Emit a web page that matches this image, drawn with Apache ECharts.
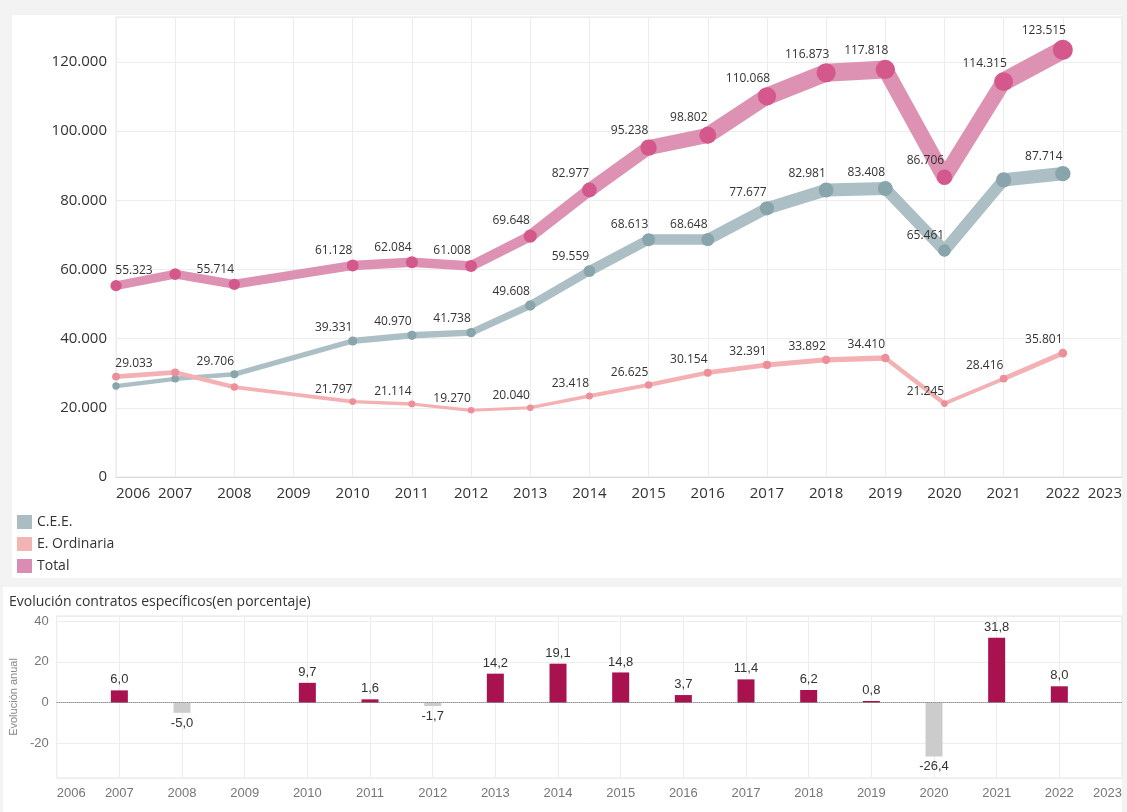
<!DOCTYPE html>
<html>
<head>
<meta charset="utf-8">
<title>Contratos específicos</title>
<script src="https://cdn.jsdelivr.net/npm/echarts@6/dist/echarts.min.js"></script>
<style>
  html, body { margin: 0; padding: 0; background: #f3f3f3; }
  #main { width: 1127px; height: 812px; }
</style>
</head>
<body>
<div id="main"></div>
<script>
// años con dato (2009 no viene en la serie)
var years = [2006, 2007, 2008, 2010, 2011, 2012, 2013, 2014, 2015, 2016, 2017, 2018, 2019, 2020, 2021, 2022];
var cee = [26290, 28400, 29706, 39331, 40970, 41738, 49608, 59559, 68613, 68648, 77677, 82981, 83408, 65461, 85899, 87714];
var ordinaria = [29033, 30250, 26008, 21797, 21114, 19270, 20040, 23418, 26625, 30154, 32391, 33892, 34410, 21245, 28416, 35801];
var total = [55323, 58650, 55714, 61128, 62084, 61008, 69648, 82977, 95238, 98802, 110068, 116873, 117818, 86706, 114315, 123515];

// puntos sin etiqueta en el original
var ceeSinEtiqueta = [2006, 2007, 2021];
var ordinariaSinEtiqueta = [2007, 2008];
var totalSinEtiqueta = [2007];

// evolución anual del total (%)
var evoYears = [2007, 2008, 2010, 2011, 2012, 2013, 2014, 2015, 2016, 2017, 2018, 2019, 2020, 2021, 2022];
var evolucion = [6.0, -5.0, 9.7, 1.6, -1.7, 14.2, 19.1, 14.8, 3.7, 11.4, 6.2, 0.8, -26.4, 31.8, 8.0];

var fuente = '"Open Sans", "Noto Sans", sans-serif';
var fuenteAbajo = '"Liberation Sans", Arial, sans-serif';

function miles(v) {
  return String(Math.round(v)).replace(/\B(?=(\d{3})+(?!\d))/g, '.');
}

// tramos de línea con grosor según el valor (como el "size" de Tableau)
function tramos(vals) {
  var out = [];
  for (var i = 0; i < years.length - 1; i++) {
    out.push({
      coords: [[years[i], vals[i]], [years[i + 1], vals[i + 1]]],
      lineStyle: { width: (vals[i] + vals[i + 1]) / 2 * 0.000155 }
    });
  }
  return out;
}

function puntos(vals, sinEtiqueta) {
  return vals.map(function (v, i) {
    return {
      value: [years[i], v],
      label: { show: sinEtiqueta.indexOf(years[i]) < 0, offset: i === 0 ? [18, 0] : [-19, 0] }
    };
  });
}

function serieLinea(nombre, vals, colorLinea, colorPunto, sinEtiqueta, z) {
  return [{
    name: nombre,
    type: 'lines',
    coordinateSystem: 'cartesian2d',
    xAxisIndex: 0,
    yAxisIndex: 0,
    silent: true,
    z: z,
    lineStyle: { color: colorLinea, opacity: 1, cap: 'round', curveness: 0 },
    data: tramos(vals)
  }, {
    name: nombre,
    type: 'scatter',
    xAxisIndex: 0,
    yAxisIndex: 0,
    z: z + 1,
    symbolSize: function (val) { return 4 + val[1] * 0.00013; },
    itemStyle: { color: colorPunto, opacity: 1 },
    label: {
      position: 'top',
      distance: 3,
      fontSize: 12,
      color: '#333',
      fontFamily: fuente,
      formatter: function (p) { return miles(p.value[1]); }
    },
    data: puntos(vals, sinEtiqueta)
  }];
}

var myChart = echarts.init(document.getElementById('main'));

var series = []
  .concat(serieLinea('C.E.E.', cee, '#abbfc4', '#88a5ac', ceeSinEtiqueta, 2))
  .concat(serieLinea('E. Ordinaria', ordinaria, '#f3b1b3', '#ec8f98', ordinariaSinEtiqueta, 4))
  .concat(serieLinea('Total', total, '#dd92b4', '#d4588c', totalSinEtiqueta, 6));

series.push({
  name: 'Evolución',
  type: 'bar',
  xAxisIndex: 1,
  yAxisIndex: 1,
  barWidth: 17,
  z: 3,
  label: {
    show: true,
    fontSize: 13,
    color: '#333',
    fontFamily: fuenteAbajo,
    distance: 4,
    formatter: function (p) { return p.value[1].toFixed(1).replace('.', ','); }
  },
  data: evoYears.map(function (y, i) {
    var v = evolucion[i];
    return {
      value: [y, v],
      itemStyle: { color: v < 0 ? '#cccccc' : '#a8124f' },
      label: { position: v < 0 ? 'bottom' : 'top' }
    };
  }),
  markLine: {
    silent: true,
    symbol: 'none',
    label: { show: false },
    lineStyle: { type: 'dotted', color: '#777', width: 1 },
    data: [{ yAxis: 0 }]
  }
});

myChart.setOption({
  animation: false,
  backgroundColor: '#f3f3f3',
  textStyle: { fontFamily: fuente },
  graphic: [
    { type: 'rect', z: -10, silent: true, shape: { x: 12, y: 15, width: 1110, height: 563 }, style: { fill: '#fff' } },
    { type: 'rect', z: -10, silent: true, shape: { x: 3, y: 587, width: 1119, height: 225 }, style: { fill: '#fff' } }
  ],
  title: {
    text: 'Evolución contratos específicos(en porcentaje)',
    left: 4,
    top: 590,
    textStyle: { fontSize: 14, fontWeight: 500, color: '#333', fontFamily: fuente }
  },
  legend: {
    orient: 'vertical',
    left: 12,
    top: 510,
    icon: 'rect',
    itemWidth: 15,
    itemHeight: 14,
    itemGap: 8,
    textStyle: { fontSize: 14, color: '#333' },
    data: [
      { name: 'C.E.E.', itemStyle: { color: '#a9bdc3' } },
      { name: 'E. Ordinaria', itemStyle: { color: '#f3b4b4' } },
      { name: 'Total', itemStyle: { color: '#d98db5' } }
    ]
  },
  grid: [
    { left: 116, right: 5, top: 17, bottom: 335, show: true, borderColor: '#e6e6e6', borderWidth: 1 },
    { left: 54, right: 5, top: 616, bottom: 34, show: true, borderColor: '#e6e6e6', borderWidth: 1 }
  ],
  xAxis: [{
    type: 'value',
    gridIndex: 0,
    min: 2006,
    max: 2023,
    interval: 1,
    axisTick: { show: false },
    axisLine: { lineStyle: { color: '#d9d9d9' } },
    splitLine: { lineStyle: { color: '#ededed' } },
    axisLabel: {
      fontSize: 15,
      color: '#333',
      margin: 9,
      alignMinLabel: 'left',
      alignMaxLabel: 'right',
      formatter: function (v) { return String(v); }
    }
  }, {
    type: 'value',
    gridIndex: 1,
    min: 2006,
    max: 2023,
    interval: 1,
    axisTick: { show: false },
    axisLine: { lineStyle: { color: '#d9d9d9' } },
    splitLine: { lineStyle: { color: '#ededed' } },
    axisLabel: {
      fontSize: 13,
      color: '#777',
      margin: 9,
      fontFamily: fuenteAbajo,
      alignMinLabel: 'left',
      alignMaxLabel: 'right',
      formatter: function (v) { return String(v); }
    }
  }],
  yAxis: [{
    type: 'value',
    gridIndex: 0,
    min: 0,
    max: 133000,
    interval: 20000,
    axisLine: { show: false },
    axisTick: { show: false },
    splitLine: { lineStyle: { color: '#ededed' } },
    axisLabel: {
      fontSize: 15,
      color: '#333',
      margin: 9,
      formatter: function (v) { return v % 20000 === 0 ? miles(v) : ''; }
    }
  }, {
    type: 'value',
    gridIndex: 1,
    min: -37,
    max: 42.5,
    splitNumber: 4,
    axisLine: { show: false },
    axisTick: { show: false },
    splitLine: { lineStyle: { color: '#ededed' } },
    name: 'Evolución anual',
    nameLocation: 'middle',
    nameGap: 32,
    nameTextStyle: { color: '#888', fontSize: 11, fontFamily: fuenteAbajo },
    axisLabel: {
      fontSize: 13,
      color: '#777',
      margin: 8,
      fontFamily: fuenteAbajo,
      formatter: function (v) { return v % 20 === 0 ? String(v) : ''; }
    }
  }],
  series: series
});
</script>
</body>
</html>
